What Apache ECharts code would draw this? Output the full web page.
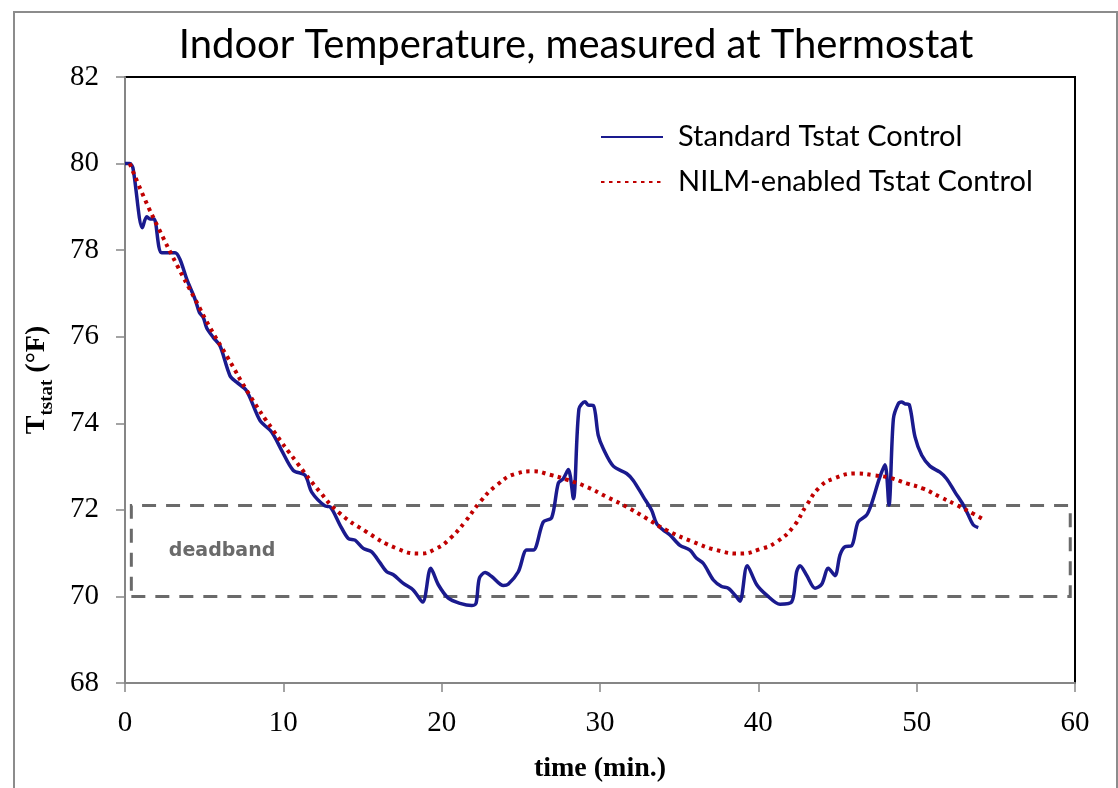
<!DOCTYPE html>
<html>
<head>
<meta charset="utf-8">
<script src="https://cdn.jsdelivr.net/npm/echarts@6/dist/echarts.min.js"></script>
<style>
  html, body { margin: 0; padding: 0; background: #fff; }
  #chart { width: 1118px; height: 788px; }
</style>
</head>
<body>
<div id="chart"></div>
<script>
// standard thermostat control (time in min., temperature in F)
var stdTime = [0.0, 0.3, 0.5, 1.1, 1.37, 1.58, 1.83, 2.32, 3.16, 3.47, 3.9, 4.42, 4.7, 4.95, 5.16, 5.58, 6.0, 6.63, 7.05, 7.68,
  8.53, 9.26, 9.9, 10.63, 11.37, 11.79, 12.63, 12.95, 13.58, 14.1, 14.53, 15.05, 15.58, 16.1, 16.53, 16.95, 17.58, 18.2, 18.8, 19.31,
  19.79, 20.42, 21.16, 21.9, 22.17, 22.38, 22.74, 23.16, 23.9, 24.2, 24.84, 25.37, 25.79, 26.42, 26.95, 27.37, 27.68, 28.0, 28.32, 28.67,
  29.05, 29.26, 29.58, 29.89, 30.21, 30.84, 31.68, 32.1, 32.74, 33.26, 33.58, 34.0, 34.42, 35.05, 35.68, 36.1, 36.53, 37.16, 37.68, 38.1,
  38.53, 38.84, 39.3, 39.9, 40.53, 41.37, 42.1, 42.42, 42.63, 43.05, 43.58, 44.0, 44.42, 44.84, 45.16, 45.47, 45.89, 46.3, 46.84, 47.16,
  47.64, 48.0, 48.25, 48.53, 48.84, 49.05, 49.26, 49.54, 49.9, 50.32, 50.84, 51.47, 51.89, 52.42, 52.95, 53.26, 53.58, 53.89];
var stdTemp = [80.0, 80.0, 79.9, 78.52, 78.77, 78.72, 78.72, 77.94, 77.94, 77.79, 77.33, 76.87, 76.56, 76.44, 76.2, 75.98, 75.79, 75.10, 74.95, 74.75,
  74.06, 73.80, 73.37, 72.91, 72.80, 72.41, 72.09, 72.07, 71.65, 71.34, 71.30, 71.11, 71.03, 70.78, 70.57, 70.5, 70.30, 70.15, 69.87, 70.65,
  70.27, 69.96, 69.84, 69.79, 69.84, 70.42, 70.55, 70.46, 70.25, 70.28, 70.57, 71.07, 71.07, 71.72, 71.82, 72.62, 72.72, 72.93, 72.26, 74.33,
  74.50, 74.42, 74.41, 73.72, 73.41, 73.01, 72.84, 72.68, 72.30, 71.99, 71.68, 71.53, 71.42, 71.18, 71.07, 70.88, 70.76, 70.38, 70.23, 70.19,
  70.03, 69.89, 70.71, 70.27, 70.03, 69.82, 69.87, 70.57, 70.71, 70.49, 70.19, 70.28, 70.65, 70.48, 70.96, 71.15, 71.17, 71.72, 71.88, 72.15,
  72.72, 73.04, 72.11, 74.10, 74.45, 74.49, 74.45, 74.42, 73.68, 73.26, 73.01, 72.87, 72.72, 72.41, 72.11, 71.88, 71.65, 71.59];

// NILM-enabled thermostat control
var nilmTime = [0.3, 1.26, 2.1, 3.26, 4.42, 5.37, 6.42, 7.89, 9.37, 10.84, 12.32, 13.47, 15.26, 17.16, 18.63, 19.68, 20.53, 21.47, 22.42, 23.47,
  24.74, 25.79, 26.84, 27.89, 29.16, 30.42, 31.68, 32.95, 34.21, 35.89, 37.37, 38.84, 40.1, 41.16, 42.21, 43.05, 43.89, 44.74, 46.21, 47.26,
  48.32, 49.37, 50.42, 51.47, 52.53, 53.58, 54.32];
var nilmTemp = [80.0, 79.17, 78.52, 77.67, 76.87, 76.21, 75.56, 74.64, 73.83, 73.10, 72.41, 71.95, 71.49, 71.11, 70.99, 71.11, 71.34, 71.72, 72.18, 72.57,
  72.84, 72.89, 72.81, 72.70, 72.53, 72.30, 72.07, 71.80, 71.53, 71.26, 71.07, 70.99, 71.09, 71.26, 71.61, 72.11, 72.53, 72.72, 72.84, 72.80,
  72.74, 72.61, 72.49, 72.30, 72.11, 71.91, 71.76];

// deadband limits
var bandTime = [0.4, 59.7];
var bandTemp = [70.0, 72.1];

function pairs(xs, ys) {
  return xs.map(function (x, i) { return [x, ys[i]]; });
}

var chart = echarts.init(document.getElementById('chart'));
var serif = '"Liberation Serif", "Times New Roman", serif';

chart.setOption({
  animation: false,
  backgroundColor: '#fff',
  title: {
    text: 'Indoor Temperature, measured at Thermostat',
    left: 571,
    textAlign: 'center',
    top: 20,
    textStyle: { fontFamily: 'Lato', fontWeight: 'normal', fontSize: 40, color: '#000' }
  },
  graphic: [{
    type: 'polyline',
    shape: { points: [[14, 800], [14, 12], [1117, 12], [1117, 800]] },
    style: { stroke: '#8c8c8c', lineWidth: 2, fill: null }
  }],
  legend: {
    orient: 'vertical',
    left: 595,
    top: 116,
    itemWidth: 62,
    itemHeight: 14,
    itemGap: 13,
    itemStyle: { color: 'rgba(0,0,0,0)', borderWidth: 0 },
    textStyle: { fontFamily: 'Lato', fontSize: 29, color: '#000', lineHeight: 32, padding: [0, 0, 0, 10] },
    data: ['Standard Tstat Control', 'NILM-enabled Tstat Control']
  },
  grid: {
    left: 125, right: 43, top: 77, bottom: 103,
    show: true, borderColor: '#000', borderWidth: 2
  },
  xAxis: {
    type: 'value', min: 0, max: 60, interval: 10,
    name: 'time (min.)', nameLocation: 'middle', nameGap: 72,
    nameTextStyle: { fontFamily: serif, fontWeight: 'bold', fontSize: 28, color: '#000' },
    axisLine: { lineStyle: { color: '#868686', width: 2 } },
    axisTick: { length: 9, lineStyle: { color: '#868686', width: 1.5 } },
    axisLabel: { margin: 26, fontFamily: serif, fontSize: 29, color: '#000' },
    splitLine: { show: false }
  },
  yAxis: {
    type: 'value', min: 68, max: 82, interval: 2,
    name: '{t|T}{s|tstat}{t| (°F)}', nameLocation: 'middle', nameGap: 68,
    nameTextStyle: {
      rich: {
        t: { fontFamily: serif, fontWeight: 'bold', fontSize: 28, color: '#000', lineHeight: 40, verticalAlign: 'middle' },
        s: { fontFamily: serif, fontWeight: 'bold', fontSize: 19, color: '#000', lineHeight: 20, verticalAlign: 'bottom' }
      }
    },
    axisLine: { show: true, lineStyle: { color: '#868686', width: 2 } },
    axisTick: { show: true, length: 9, lineStyle: { color: '#868686', width: 1.5 } },
    axisLabel: { margin: 26, fontFamily: serif, fontSize: 29, color: '#000' },
    splitLine: { show: false }
  },
  series: [{
    name: 'Standard Tstat Control',
    type: 'line',
    data: pairs(stdTime, stdTemp),
    symbol: 'none',
    smooth: 0.3,
    color: '#1a1a8e',
    lineStyle: { color: '#1a1a8e', width: 3.5 },
    markArea: {
      silent: true,
      itemStyle: { color: 'rgba(0,0,0,0)', borderColor: '#6a6a6a', borderWidth: 3, borderType: [14, 10] },
      label: {
        show: true, position: 'insideLeft', distance: 39,
        fontFamily: '"DejaVu Sans"', fontWeight: 'bold', fontSize: 19, color: '#6a6a6a'
      },
      data: [[
        { name: 'deadband', coord: [bandTime[0], bandTemp[0]] },
        { coord: [bandTime[1], bandTemp[1]] }
      ]]
    }
  }, {
    name: 'NILM-enabled Tstat Control',
    type: 'line',
    data: pairs(nilmTime, nilmTemp),
    symbol: 'none',
    smooth: true,
    color: '#c00000',
    lineStyle: { color: '#c00000', width: 4, type: [3.5, 4.5], cap: 'butt' }
  }]
});
</script>
</body>
</html>
